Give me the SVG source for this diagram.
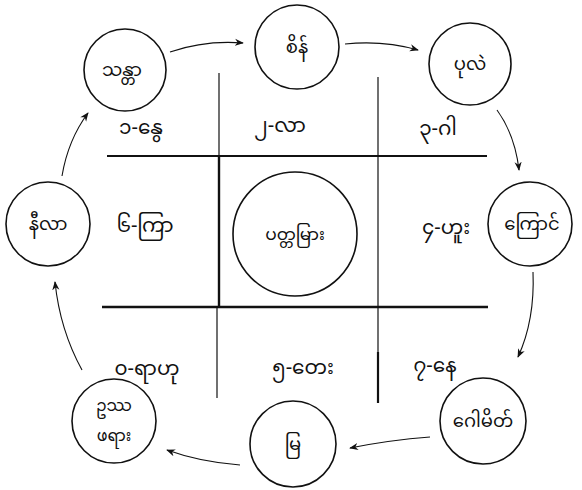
<svg xmlns="http://www.w3.org/2000/svg" width="582" height="490" viewBox="0 0 582 490">
<defs>
<marker id="ah" viewBox="0 0 10 10" refX="9" refY="5" markerWidth="9" markerHeight="9" markerUnits="userSpaceOnUse" orient="auto">
<path d="M0,1 L10,5 L0,9 L3,5 Z" fill="#111"/>
</marker>
</defs>
<style>
.c{fill:#fff;stroke:#111;stroke-width:1.6}
.t{font-family:"Noto Sans Myanmar","Padauk","Myanmar Text","Noto Sans",sans-serif;font-size:18px;fill:#111;text-anchor:middle}
.s{font-size:16px}
.l{font-family:"Noto Sans Myanmar","Padauk","Myanmar Text","Noto Sans",sans-serif;font-size:20px;fill:#111;text-anchor:middle}
.g{stroke:#111;fill:none}
.a{stroke:#111;stroke-width:1.1;fill:none;marker-end:url(#ah)}
</style>
<rect width="582" height="490" fill="#fff"/>
<g id="grid">
<line class="g" x1="107" y1="156" x2="487" y2="156" stroke-width="2"/>
<line class="g" x1="102" y1="307" x2="488" y2="307" stroke-width="2.5"/>
<line class="g" x1="219" y1="73" x2="219" y2="156" stroke-width="1.2"/>
<line class="g" x1="219" y1="156" x2="219" y2="307" stroke-width="2.4"/>
<line class="g" x1="217" y1="307" x2="217" y2="398" stroke-width="1.2"/>
<line class="g" x1="378" y1="77" x2="378" y2="352" stroke-width="1.2"/>
<line class="g" x1="378" y1="352" x2="378" y2="403" stroke-width="2.2"/>
</g>
<g id="connectors">
<path class="a" d="M170,52 Q205,40 243,43"/>
<path class="a" d="M345,44 Q383,40 418,50"/>
<path class="a" d="M497,110 Q515,135 519,170"/>
<path class="a" d="M533,272 Q535,320 518,357"/>
<path class="a" d="M430,437 Q390,440 350,448"/>
<path class="a" d="M240,465 Q200,462 167,450"/>
<path class="a" d="M82,370 Q60,330 55,282"/>
<path class="a" d="M62,176 Q68,140 88,113"/>
</g>
<g id="n-santa"><circle class="c" cx="125" cy="70" r="41"/><text class="t" x="122" y="76">သန္တာ</text></g>
<g id="n-sein"><circle class="c" cx="297" cy="47" r="42"/><text class="t" x="297" y="53">စိန်</text></g>
<g id="n-pale"><circle class="c" cx="470" cy="64" r="41"/><text class="t" x="470" y="70">ပုလဲ</text></g>
<g id="n-kyaung"><circle class="c" cx="530" cy="224" r="42"/><text class="t" x="532" y="230">ကြောင်</text></g>
<g id="n-gomeit"><circle class="c" cx="483" cy="421" r="43"/><text class="t" x="483" y="427">ဂေါမိတ်</text></g>
<g id="n-mya"><circle class="c" cx="293" cy="444" r="43"/><text class="t" x="293" y="450">မြ</text></g>
<g id="n-outthaphayar"><circle class="c" cx="114" cy="421" r="42"/><text class="t s" x="114" y="411">ဥဿ</text><text class="t s" x="114" y="441">ဖရား</text></g>
<g id="n-nilar"><circle class="c" cx="48" cy="224" r="42"/><text class="t" x="48" y="230">နီလာ</text></g>
<g id="n-padamyar"><circle class="c" cx="295" cy="234" r="62"/><text class="t" x="295" y="240" style="font-size:17px">ပတ္တမြား</text></g>
<g id="labels">
<text class="l" x="141" y="134">၁-နွေ</text>
<text class="l" x="280" y="132">၂-လာ</text>
<text class="l" x="438" y="135">၃-ဂါ</text>
<text class="l" x="446" y="234">၄-ဟူး</text>
<text class="l" x="303" y="374">၅-တေး</text>
<text class="l" x="145" y="232">၆-ကြာ</text>
<text class="l" x="435" y="372">၇-နေ</text>
<text class="l" x="147" y="375">၀-ရာဟု</text>
</g>
</svg>
